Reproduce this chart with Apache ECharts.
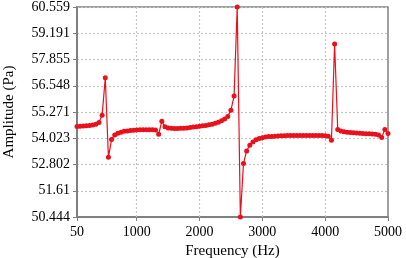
<!DOCTYPE html>
<html>
<head>
<meta charset="utf-8">
<script src="https://cdn.jsdelivr.net/npm/echarts@6/dist/echarts.min.js"></script>
<style>
  html, body { margin: 0; padding: 0; background: #fff; }
  #chart { width: 406px; height: 258px; }
</style>
</head>
<body>
<div id="chart"></div>
<script>
const freqs = [
  50, 100, 150, 200, 250, 300, 350, 400, 450, 500, 550, 600, 650, 700, 750, 800, 850, 900, 950, 1000,
  1050, 1100, 1150, 1200, 1250, 1300, 1350, 1400, 1450, 1500, 1550, 1600, 1650, 1700, 1750, 1800, 1850, 1900, 1950, 2000,
  2050, 2100, 2150, 2200, 2250, 2300, 2350, 2400, 2450, 2500, 2550, 2600, 2650, 2700, 2750, 2800, 2850, 2900, 2950, 3000,
  3050, 3100, 3150, 3200, 3250, 3300, 3350, 3400, 3450, 3500, 3550, 3600, 3650, 3700, 3750, 3800, 3850, 3900, 3950, 4000,
  4050, 4100, 4150, 4200, 4250, 4300, 4350, 4400, 4450, 4500, 4550, 4600, 4650, 4700, 4750, 4800, 4850, 4900, 4950, 5000
];

const amplitude = [
  54.58, 54.59, 54.60, 54.61, 54.63, 54.65, 54.69, 54.77, 55.12, 56.94, 53.14, 53.96, 54.17, 54.26, 54.31, 54.35, 54.37, 54.39, 54.40, 54.41,
  54.42, 54.42, 54.42, 54.42, 54.42, 54.41, 54.21, 54.83, 54.56, 54.51, 54.49, 54.48, 54.48, 54.49, 54.50, 54.51, 54.53, 54.55, 54.57, 54.59,
  54.61, 54.63, 54.66, 54.69, 54.73, 54.78, 54.85, 54.94, 55.06, 55.36, 56.04, 60.559, 50.444, 52.85, 53.43, 53.70, 53.85, 53.95, 54.01, 54.05,
  54.08, 54.10, 54.11, 54.12, 54.13, 54.14, 54.14, 54.15, 54.15, 54.15, 54.15, 54.15, 54.15, 54.15, 54.15, 54.15, 54.15, 54.15, 54.15, 54.14,
  54.12, 53.93, 58.64, 54.44, 54.37, 54.33, 54.31, 54.29, 54.28, 54.27, 54.26, 54.25, 54.24, 54.23, 54.22, 54.21, 54.18, 54.06, 54.44, 54.25
];

const xTicks = [50, 1000, 2000, 3000, 4000, 5000];
const xGridLines = [1000, 2000, 3000, 4000];
const yTickLabels = ['50.444', '51.61', '52.802', '54.023', '55.271', '56.548', '57.855', '59.191', '60.559'];

const font = 'Liberation Serif';
const axisGray = '#808080';
const gridGray = '#c4c4c4';
const red = '#e8111c';

const chart = echarts.init(document.getElementById('chart'));

chart.setOption({
  animation: false,
  grid: {
    left: 77, right: 18, top: 7, bottom: 41,
    outerBoundsMode: 'none',
    containLabel: false,
    show: true,
    borderColor: axisGray,
    borderWidth: 1.5
  },
  xAxis: {
    type: 'value',
    min: 50,
    max: 5000,
    name: 'Frequency (Hz)',
    nameLocation: 'middle',
    nameGap: 24,
    nameTextStyle: { fontFamily: font, fontSize: 15, color: '#000' },
    axisLine: { lineStyle: { color: axisGray, width: 2 } },
    axisTick: { show: true, length: 4, customValues: xTicks, lineStyle: { color: axisGray } },
    axisLabel: {
      customValues: xTicks, fontFamily: font, fontSize: 14, color: '#000', margin: 8,
      formatter: (v) => String(v)
    },
    splitLine: { show: false }
  },
  yAxis: [
    {
      // data axis (log scale)
      type: 'log',
      min: 50.444,
      max: 60.559,
      show: false,
      splitLine: { show: false }
    },
    {
      // label axis: equal log steps between min and max
      type: 'value',
      position: 'left',
      min: 0,
      max: 8,
      interval: 1,
      name: 'Amplitude (Pa)',
      nameLocation: 'middle',
      nameGap: 60,
      nameTextStyle: { fontFamily: font, fontSize: 15, color: '#000' },
      axisLine: { show: true, lineStyle: { color: axisGray, width: 2 } },
      axisTick: { show: true, length: 4, lineStyle: { color: axisGray } },
      axisLabel: {
        fontFamily: font, fontSize: 14, color: '#000', margin: 7,
        formatter: (v) => yTickLabels[v]
      },
      splitLine: { show: true, lineStyle: { color: gridGray, type: [2, 2], width: 1.2 } }
    }
  ],
  series: [
    {
      type: 'line',
      yAxisIndex: 0,
      z: 3,
      data: freqs.map((f, i) => [f, amplitude[i]]),
      symbol: 'circle',
      symbolSize: 5,
      itemStyle: { color: red },
      lineStyle: { color: red, width: 1.2 },
      markLine: {
        silent: true,
        symbol: 'none',
        z: 1,
        label: { show: false },
        lineStyle: { color: gridGray, type: [2, 2], width: 1.2 },
        data: xGridLines.map((x) => ({ xAxis: x }))
      }
    }
  ]
});
</script>
</body>
</html>
